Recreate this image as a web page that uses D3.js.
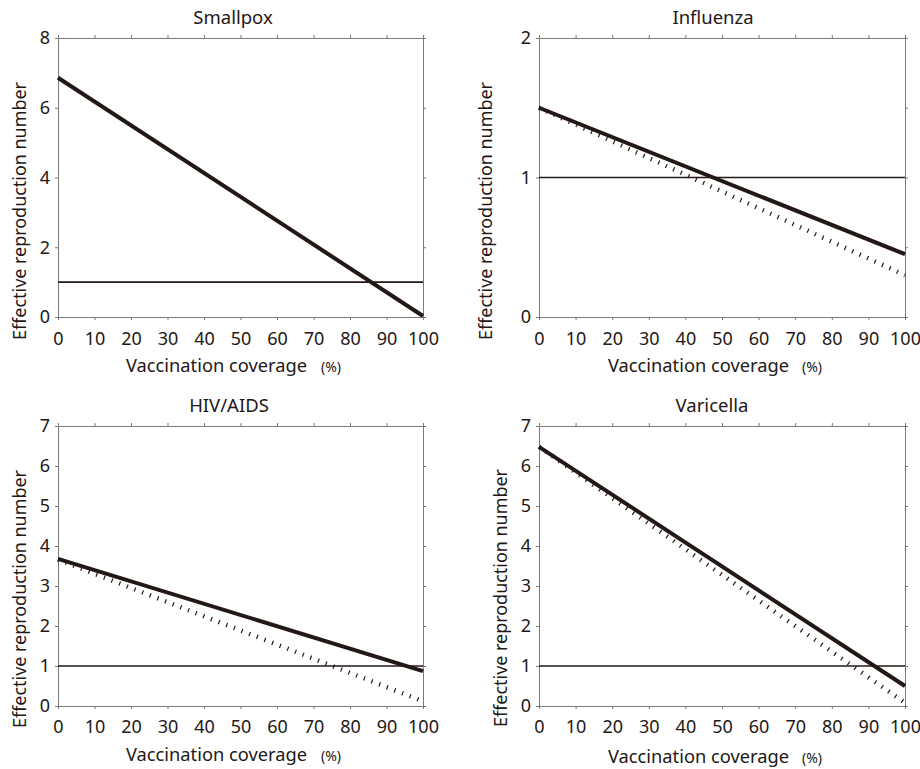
<!DOCTYPE html>
<html>
<head>
<meta charset="utf-8">
<script src="https://cdn.jsdelivr.net/npm/d3@7"></script>
<style>
  html, body { margin: 0; padding: 0; background: #fff; }
  svg { display: block; }
  text { font-family: "Noto Sans", "Open Sans", sans-serif; fill: #231815; }
</style>
</head>
<body>
<svg id="chart" width="920" height="769"></svg>
<script>
// ---------------- data ----------------
const coverage = [0, 100];
const xTicks = [0, 10, 20, 30, 40, 50, 60, 70, 80, 90, 100];
const titles = ["Smallpox", "Influenza", "HIV/AIDS", "Varicella"];
const yMaxes = [8, 2, 7, 7];
const smallpoxYTicks = [0, 2, 4, 6, 8];
const influenzaYTicks = [0, 1, 2];
const influenzaRightTicks = [0, 0.5, 1, 1.5, 2];
const hivYTicks = [0, 1, 2, 3, 4, 5, 6, 7];
const varicellaYTicks = [0, 1, 2, 3, 4, 5, 6, 7];

const smallpoxSolid = [6.86, 0.03];
const influenzaSolid = [1.5, 0.45];
const influenzaDotted = [1.5, 0.3];
const hivSolid = [3.68, 0.87];
const hivDotted = [3.66, 0.12];
const varicellaSolid = [6.48, 0.5];
const varicellaDotted = [6.48, 0.08];
const threshold = 1;

const xLabel = "Vaccination coverage";
const xUnit = "(%)";
const yLabel = "Effective reproduction number";

// ---------------- layout ----------------
const ink = "#231815";
const frame = "#7a7a7a";
const panels = [
  { title: titles[0], yMax: yMaxes[0], yTicks: smallpoxYTicks, rTicks: smallpoxYTicks, solid: smallpoxSolid, dotted: null,
    box: { l: 58, r: 423, t: 38, b: 317 }, titleX: 233, titleY: 24, ylx: 26, yly: 211, xlx: 126, unitX: 321, xlY: 372, tickY: 345 },
  { title: titles[1], yMax: yMaxes[1], yTicks: influenzaYTicks, rTicks: influenzaRightTicks, solid: influenzaSolid, dotted: influenzaDotted,
    box: { l: 539, r: 905, t: 38, b: 317 }, titleX: 713, titleY: 24, ylx: 492, yly: 211, xlx: 608, unitX: 802, xlY: 372, tickY: 345 },
  { title: titles[2], yMax: yMaxes[2], yTicks: hivYTicks, rTicks: hivYTicks, solid: hivSolid, dotted: hivDotted,
    box: { l: 58, r: 423, t: 426, b: 706 }, titleX: 229, titleY: 412, ylx: 26, yly: 599, xlx: 126, unitX: 321, xlY: 761, tickY: 733 },
  { title: titles[3], yMax: yMaxes[3], yTicks: varicellaYTicks, rTicks: varicellaYTicks, solid: varicellaSolid, dotted: varicellaDotted,
    box: { l: 539, r: 905, t: 426, b: 706 }, titleX: 712, titleY: 412, ylx: 507, yly: 598, xlx: 608, unitX: 802, xlY: 763, tickY: 733 }
];

const svg = d3.select("#chart");

panels.forEach(p => {
  const x = d3.scaleLinear().domain([0, 100]).range([p.box.l, p.box.r]);
  const y = d3.scaleLinear().domain([0, p.yMax]).range([p.box.b, p.box.t]);
  const g = svg.append("g");

  const styleAxis = sel => {
    sel.select(".domain").attr("stroke", frame).attr("stroke-width", 1);
    sel.selectAll(".tick line").attr("stroke", frame).attr("stroke-width", 1);
  };
  const bottom = g.append("g").attr("transform", `translate(0,${p.box.b})`)
    .call(d3.axisBottom(x).tickValues(xTicks).tickSize(3).tickSizeOuter(0).tickPadding(p.tickY - p.box.b - 16))
    .call(styleAxis);
  bottom.selectAll(".tick text").attr("font-size", 18).attr("fill", ink)
    .attr("font-family", "'Noto Sans', sans-serif");
  g.append("g").attr("transform", `translate(0,${p.box.t})`)
    .call(d3.axisTop(x).tickValues(xTicks).tickSize(3).tickSizeOuter(0).tickFormat(""))
    .call(styleAxis);
  const left = g.append("g").attr("transform", `translate(${p.box.l},0)`)
    .call(d3.axisLeft(y).tickValues(p.yTicks).tickSize(3).tickSizeOuter(0).tickPadding(5).tickFormat(d3.format("d")))
    .call(styleAxis);
  left.selectAll(".tick text").attr("font-size", 18).attr("fill", ink)
    .attr("font-family", "'Noto Sans', sans-serif");
  g.append("g").attr("transform", `translate(${p.box.r},0)`)
    .call(d3.axisRight(y).tickValues(p.rTicks).tickSize(3).tickSizeOuter(0).tickFormat(""))
    .call(styleAxis);

  const line = d3.line().x(d => x(d[0])).y(d => y(d[1]));

  g.append("path")
    .datum(coverage.map(c => [c, threshold]))
    .attr("d", line).attr("fill", "none").attr("stroke", ink).attr("stroke-width", 1.6);

  if (p.dotted) {
    g.append("path")
      .datum(coverage.map((c, i) => [c, p.dotted[i]]))
      .attr("d", line).attr("fill", "none").attr("stroke", ink)
      .attr("stroke-width", 4.5).attr("stroke-dasharray", "1.2 7");
  }
  g.append("path")
    .datum(coverage.map((c, i) => [c, p.solid[i]]))
    .attr("d", line).attr("fill", "none").attr("stroke", ink)
    .attr("stroke-width", 4).attr("stroke-linecap", "butt");

  g.append("text").attr("x", p.titleX).attr("y", p.titleY)
    .attr("text-anchor", "middle").attr("font-size", 18.5).text(p.title);

  g.append("text").attr("x", p.xlx).attr("y", p.xlY)
    .attr("font-size", 18).attr("textLength", 181).attr("lengthAdjust", "spacingAndGlyphs").text(xLabel);
  g.append("text").attr("x", p.unitX).attr("y", p.xlY)
    .attr("font-size", 14).text(xUnit);

  g.append("text")
    .attr("transform", `translate(${p.ylx},${p.yly}) rotate(-90)`)
    .attr("text-anchor", "middle").attr("font-size", 18)
    .attr("textLength", 258).attr("lengthAdjust", "spacingAndGlyphs").text(yLabel);
});
</script>
</body>
</html>
